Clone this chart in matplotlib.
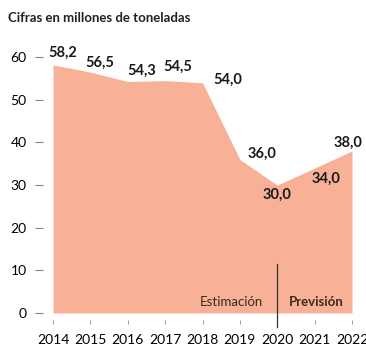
import matplotlib.pyplot as plt

plt.rcParams['font.family'] = ['Lato', 'DejaVu Sans']

years = [2014, 2015, 2016, 2017, 2018, 2019, 2020, 2021, 2022]
values = [58.2, 56.5, 54.3, 54.5, 54.0, 36.0, 30.0, 34.0, 38.0]
value_labels = ['58,2', '56,5', '54,3', '54,5', '54,0', '36,0', '30,0', '34,0', '38,0']
yticks = [0, 10, 20, 30, 40, 50, 60]

# label offsets in points (dx, dy) relative to each point
offsets = [(7, 9), (7, 7), (10, 8), (9, 10), (18, 2), (16, 4), (0, -7), (8, -8), (-3, 6)]

fill_color = '#f8b196'

fig = plt.figure(figsize=(3.66, 3.49), dpi=100)
ax = fig.add_axes([0.1448, 0.1032, 0.817, 0.794])

ax.fill_between(years, values, 0, color=fill_color, linewidth=0)

for x, y, lab, (dx, dy) in zip(years, values, value_labels, offsets):
    ax.annotate(lab, (x, y), xytext=(dx, dy), textcoords='offset points',
                ha='center', va='center', fontsize=10.5, fontweight='bold',
                color='#1a1a1a')

ax.set_xlim(2014, 2022)
ax.set_ylim(0, 65)

ax.set_xticks(years)
ax.set_xticklabels([str(y) for y in years], fontsize=10, color='#333333')
ax.set_yticks(yticks)
ax.set_yticklabels([str(t) for t in yticks], fontsize=8, color='#555555')

for s in ['top', 'right']:
    ax.spines[s].set_visible(False)
ax.spines['left'].set_position(('outward', 7))
ax.spines['left'].set_color('none')
ax.spines['bottom'].set_position(('outward', 5))
ax.spines['bottom'].set_color('none')
ax.tick_params(axis='y', length=6, width=0.8, color='#888888', pad=6)
ax.tick_params(axis='x', length=3, width=0.6, color='#888888', pad=7)

# divider between estimate and forecast
ax.plot([2020, 2020], [11.5, -3.2], color='#333333', linewidth=0.9, clip_on=False)
ax.text(2019.63, 2.6, 'Estimación', ha='right', va='center', fontsize=9.5, color='#3a2a20')
ax.text(2020.32, 2.6, 'Previsión', ha='left', va='center', fontsize=9.5,
        fontweight='bold', color='#3a2a20')

fig.text(0.022, 0.948, 'Cifras en millones de toneladas', fontsize=9.5,
         fontweight='bold', color='#222222', ha='left', va='center')

fig.savefig('out.png', dpi=100)
